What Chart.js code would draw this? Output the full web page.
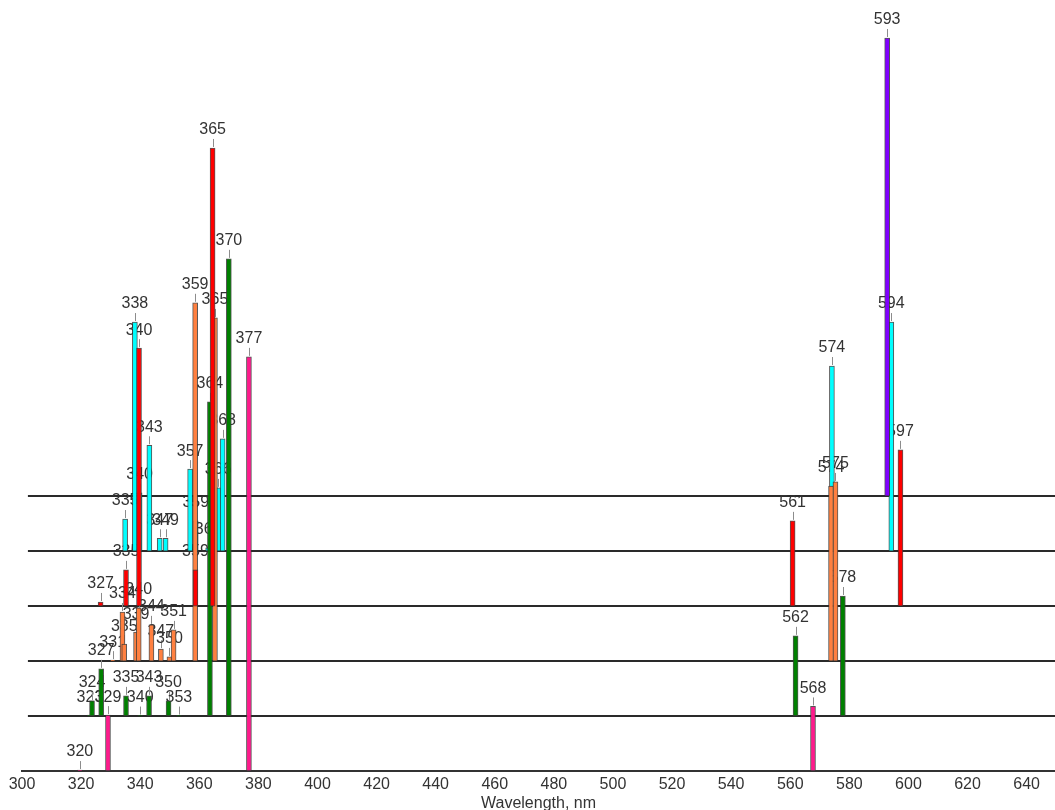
<!DOCTYPE html>
<html>
<head>
<meta charset="utf-8">
<script src="https://cdn.jsdelivr.net/npm/chart.js@4.4.1/dist/chart.umd.min.js"></script>
<style>
  html, body { margin: 0; padding: 0; background: #ffffff; }
  #wrap { width: 1055px; height: 810px; position: relative; }
</style>
</head>
<body>
<div id="wrap"><canvas id="chart"></canvas></div>
<script>
// Emission lines per trace: wavelength (nm) and relative intensity.
// Each trace sits on its own baseline (offset, in intensity units).
const pinkNm    = [319.6, 329.1, 376.8, 567.7];
const pinkInt   = [0.2, 12.2, 90.4, 14.1];

const greenNm   = [323.0, 323.7, 326.8, 335.2, 340.0, 343.0, 349.6, 353.1, 363.6, 370.0, 561.8, 577.8];
const greenInt  = [0.2, 3.3, 10.3, 4.4, 0.1, 4.4, 3.3, 0.1, 68.6, 99.8, 17.5, 26.2];

const orangeNm  = [330.7, 334.0, 334.6, 338.6, 339.5, 343.8, 347.0, 349.9, 351.3, 358.6, 365.3, 573.8, 575.3];
const orangeInt = [0.2, 10.7, 3.7, 6.3, 11.6, 7.9, 2.6, 0.9, 6.8, 78.2, 74.9, 38.2, 39.1];

const redNm     = [326.6, 335.2, 339.6, 358.7, 364.5, 560.8, 597.3];
const redInt    = [0.9, 7.9, 56.3, 7.9, 100.0, 18.6, 34.1];

const cyanNm    = [334.9, 338.2, 339.8, 343.1, 346.6, 348.6, 356.9, 358.8, 363.0, 366.4, 367.9, 574.1, 594.2];
const cyanInt   = [7.0, 50.0, 12.7, 23.1, 2.8, 2.8, 17.9, 6.6, 0.7, 13.8, 24.5, 40.4, 50.0];

const purpleNm  = [592.8];
const purpleInt = [100.0];

const traceOffsets = [0, 12, 24, 36, 48, 60];
const xTicks = [300, 320, 340, 360, 380, 400, 420, 440, 460, 480, 500, 520, 540, 560, 580, 600, 620, 640];

const FONT = '"Liberation Sans", Arial, Helvetica, sans-serif';
const TEXT = '#333333';

function trace(nm, inten, offset) {
  return nm.map((x, i) => ({ x: x, y: [offset, offset + inten[i]] }));
}

// traces listed bottom baseline first; `order` controls which bars paint on top
const traces = [
  { nm: pinkNm,   val: pinkInt,   color: '#ff1a8c', order: 3 },
  { nm: greenNm,  val: greenInt,  color: '#008000', order: 2 },
  { nm: orangeNm, val: orangeInt, color: '#ff8040', order: 1 },
  { nm: redNm,    val: redInt,    color: '#ff0000', order: 0 },
  { nm: cyanNm,   val: cyanInt,   color: '#00ffff', order: 5 },
  { nm: purpleNm, val: purpleInt, color: '#8000ff', order: 4 }
];

const datasets = traces.map((t, k) => ({
  data: trace(t.nm, t.val, traceOffsets[k]),
  backgroundColor: t.color,
  borderColor: 'rgba(55,55,55,0.85)',
  borderWidth: 1,
  borderSkipped: false,
  barThickness: 5,
  grouped: false,
  order: t.order
}));

// Baselines of the offset traces plus the wavelength label with its leader line above each line
const peakLabels = {
  id: 'peakLabels',
  beforeDatasetsDraw(chart) {
    const { ctx, chartArea, scales: { x, y } } = chart;
    ctx.save();
    ctx.strokeStyle = '#2a2a2a';
    ctx.lineWidth = 2;
    traceOffsets.forEach(off => {
      if (off === 0) return;
      const py = Math.round(y.getPixelForValue(off));
      ctx.beginPath();
      ctx.moveTo(x.getPixelForValue(302), py);
      ctx.lineTo(chartArea.right, py);
      ctx.stroke();
    });

    ctx.font = '16px ' + FONT;
    ctx.textAlign = 'center';
    ctx.textBaseline = 'middle';
    chart.data.datasets.forEach((ds, di) => {
      const meta = chart.getDatasetMeta(di);
      meta.data.forEach((bar, i) => {
        const nm = ds.data[i].x;
        const top = bar.y;
        const bx = Math.round(bar.x) + 0.5;
        ctx.strokeStyle = '#8c8c8c';
        ctx.lineWidth = 1;
        ctx.beginPath();
        ctx.moveTo(bx, top - 1);
        ctx.lineTo(bx, top - 9);
        ctx.stroke();
        ctx.fillStyle = TEXT;
        ctx.fillText(String(Math.round(nm)), bar.x, top - 18);
      });
    });
    ctx.restore();
  }
};

new Chart(document.getElementById('chart'), {
  type: 'bar',
  data: { datasets: datasets },
  options: {
    responsive: true,
    maintainAspectRatio: false,
    animation: false,
    devicePixelRatio: 1,
    layout: { padding: { left: 22, right: 0, top: 0, bottom: 0 } },
    plugins: { legend: { display: false }, tooltip: { enabled: false } },
    scales: {
      x: {
        type: 'linear',
        min: 300,
        max: 649.6,
        offset: false,
        grid: { display: false, drawTicks: false },
        border: { display: true, color: '#333333', width: 2 },
        afterBuildTicks: scale => { scale.ticks = xTicks.map(v => ({ value: v })); },
        afterFit: scale => { scale.height = 39; },
        ticks: {
          padding: 5,
          color: TEXT,
          autoSkip: false,
          maxRotation: 0,
          font: { family: FONT, size: 16, lineHeight: 1.1 }
        },
        title: {
          display: true,
          text: 'Wavelength, nm',
          color: TEXT,
          padding: { top: 0, bottom: 0 },
          font: { family: FONT, size: 16, lineHeight: 0.8 }
        }
      },
      y: { display: false, min: 0, max: 168.3 }
    }
  },
  plugins: [peakLabels]
});
</script>
</body>
</html>
